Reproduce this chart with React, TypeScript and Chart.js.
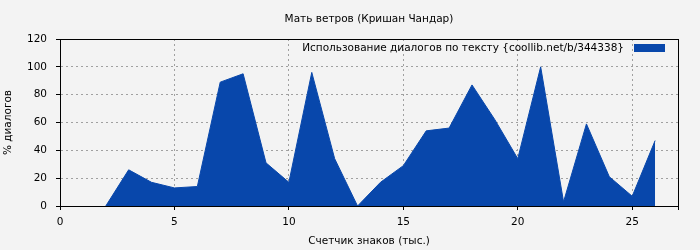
import React, { useEffect, useRef } from "react";
import { Chart, registerables } from "chart.js";

Chart.register(...registerables);

const xValues = [2, 3, 4, 5, 6, 7, 8, 9, 10, 11, 12, 13, 14, 15, 16, 17, 18, 19, 20, 21, 22, 23, 24, 25, 26];
const yValues = [0, 26, 17, 13, 14, 89, 95, 31, 17, 96, 34, 0, 17, 29, 54, 56, 87, 62, 34, 100, 3, 59, 21, 7, 47];
const seriesLabel = "Использование диалогов по тексту {coollib.net/b/344338}";
const titleText = "Мать ветров (Кришан Чандар)";
const xTitle = "Счетчик знаков (тыс.)";
const yTitle = "% диалогов";
const FONT = "'DejaVu Sans', sans-serif";
const FS = 10.5;
const FILL = "#0847ab";

const frameLegend = {
  id: "frameLegend",
  afterDraw(chart: any) {
    const { ctx, chartArea } = chart;
    const { left, top, right, bottom } = chartArea;
    ctx.save();
    ctx.strokeStyle = "#000";
    ctx.lineWidth = 1;
    ctx.strokeRect(Math.round(left) + 0.5, Math.round(top) + 0.5, Math.round(right - left), Math.round(bottom - top));
    ctx.font = `${FS}px ${FONT}`;
    ctx.fillStyle = "#000";
    ctx.textBaseline = "middle";
    // title centred over the plot area
    ctx.textAlign = "center";
    ctx.fillText(titleText, (left + right) / 2, 19);
    // legend
    ctx.textAlign = "right";
    const ly = top + 9;
    const boxW = 31;
    const boxR = right - 13;
    ctx.fillText(seriesLabel, boxR - boxW - 10, ly);
    ctx.fillStyle = FILL;
    ctx.fillRect(boxR - boxW, ly - 4, boxW, 8);
    ctx.restore();
  },
};

export default function App() {
  const ref = useRef<HTMLCanvasElement>(null);
  useEffect(() => {
    document.body.style.margin = "0";
    document.body.style.background = "#f3f3f3";
    const chart = new Chart(ref.current!, {
      type: "line",
      data: {
        datasets: [
          {
            label: seriesLabel,
            data: xValues.map((x, i) => ({ x, y: yValues[i] })),
            fill: "origin",
            backgroundColor: FILL,
            borderColor: FILL,
            borderWidth: 1,
            pointRadius: 0,
            tension: 0,
          },
        ],
      },
      options: {
        responsive: false,
        animation: false,
        layout: { padding: { right: 22, left: 0, top: 39 } },
        plugins: {
          legend: { display: false },
          tooltip: { enabled: false },
          title: { display: false },
        },
        scales: {
          x: {
            type: "linear",
            min: 0,
            max: 27,
            afterFit: (s: any) => { s.height = 44; },
            ticks: {
              stepSize: 5,
              color: "#000",
              font: { family: FONT, size: FS },
              padding: 6,
              maxRotation: 0,
              callback: (v: any) => (v % 5 === 0 ? String(v) : ""),
            },
            grid: {
              color: "#a0a0a0",
              tickColor: "#000",
              tickLength: 4,
            },
            border: { display: true, color: "#000", dash: [2, 3] },
            title: {
              display: true,
              text: xTitle,
              color: "#000",
              font: { family: FONT, size: FS },
              padding: { top: 4, bottom: 2 },
            },
          },
          y: {
            min: 0,
            max: 120,
            afterFit: (s: any) => { s.width = 60; },
            ticks: {
              stepSize: 20,
              color: "#000",
              font: { family: FONT, size: FS },
              padding: 9,
            },
            grid: {
              color: "#a0a0a0",
              tickColor: "#000",
              tickLength: 4,
            },
            border: { display: true, color: "#000", dash: [2, 3] },
            title: {
              display: true,
              text: yTitle,
              color: "#000",
              font: { family: FONT, size: FS },
              padding: { top: 2, bottom: 2 },
            },
          },
        },
      },
      plugins: [frameLegend],
    } as any);
    return () => chart.destroy();
  }, []);
  return (
    <div style={{ width: 700, height: 250, background: "#f3f3f3" }}>
      <canvas ref={ref} width={700} height={250} />
    </div>
  );
}
